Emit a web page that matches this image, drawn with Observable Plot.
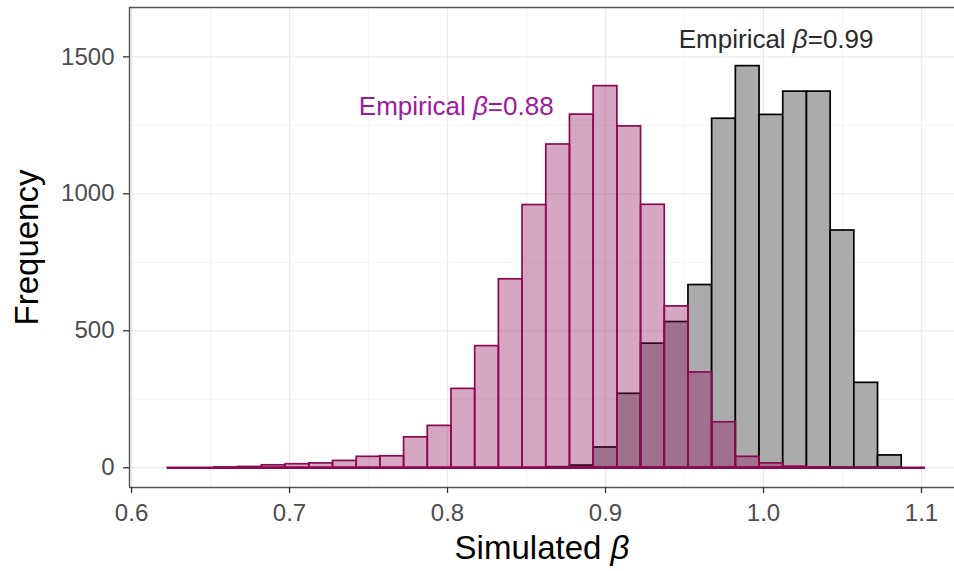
<!DOCTYPE html>
<html>
<head>
<meta charset="utf-8">
<script src="https://cdn.jsdelivr.net/npm/d3@7"></script>
<script src="https://cdn.jsdelivr.net/npm/@observablehq/plot@0.6"></script>
<style>
  html, body { margin: 0; padding: 0; background: #ffffff; overflow: hidden; }
  #chart svg { display: block; }
</style>
</head>
<body>
<div id="chart"></div>
<script>
// ---- Data ----
const binCenters = [0.63, 0.645, 0.66, 0.675, 0.69, 0.705, 0.72, 0.735, 0.75, 0.765,
                    0.78, 0.795, 0.81, 0.825, 0.84, 0.855, 0.87, 0.885, 0.9, 0.915,
                    0.93, 0.945, 0.96, 0.975, 0.99, 1.005, 1.02, 1.035, 1.05, 1.065,
                    1.08, 1.095];
const binWidth = 0.015;
const pinkCounts = [0, 0, 1, 3, 9, 13, 16, 25, 40, 42,
                    111, 153, 288, 444, 688, 959, 1180, 1289, 1393, 1246,
                    960, 589, 348, 166, 40, 16, 4, 1, 0, 0,
                    0, 0];
const grayCounts = [0, 0, 0, 0, 0, 0, 0, 0, 0, 0,
                    0, 0, 0, 0, 0, 0, 2, 8, 74, 270,
                    453, 532, 667, 1274, 1466, 1288, 1373, 1373, 866, 310,
                    45, 0];
const xTicks = [0.6, 0.7, 0.8, 0.9, 1.0, 1.1];
const xMinorTicks = [0.65, 0.75, 0.85, 0.95, 1.05];
const yTicks = [0, 500, 1000, 1500];
const yMinorTicks = [250, 750, 1250];
const annLabels = ["Empirical β=0.88", "Empirical β=0.99"];
const annX = [0.8055, 1.008];
const annY = [1318, 1562];
const annColors = ["#A0189F", "#2B2B2B"];
const xTitle = "Simulated β";
const yTitle = "Frequency";

// ---- Build table ----
const bins = binCenters.map((c, i) => ({
  x1: c - binWidth / 2, x2: c + binWidth / 2,
  pink: pinkCounts[i], gray: grayCounts[i]
}));
const annotations = annLabels.map((t, i) => ({ label: t, x: annX[i], y: annY[i], color: annColors[i] }));

const xDomain = [0.5987, 1.1209];
const yDomain = [-72, 1680];
const PINK = "#8B0A50";
const FONT = "'Liberation Sans', Arial, Helvetica, sans-serif";

const chart = Plot.plot({
  width: 954,
  height: 571,
  marginLeft: 129,
  marginRight: 0,
  marginTop: 7,
  marginBottom: 84,
  x: { domain: xDomain },
  y: { domain: yDomain },
  style: { fontFamily: FONT, background: "#ffffff", overflow: "visible" },
  marks: [
    // grid
    Plot.ruleX(xMinorTicks, { stroke: "#F3F3F3", strokeWidth: 0.9 }),
    Plot.ruleY(yMinorTicks, { stroke: "#F3F3F3", strokeWidth: 0.9 }),
    Plot.ruleX(xTicks, { stroke: "#EBEBEB", strokeWidth: 1.3 }),
    Plot.ruleY(yTicks, { stroke: "#EBEBEB", strokeWidth: 1.3 }),
    // gray histogram (underneath)
    Plot.rect(bins.filter(d => d.gray > 0), {
      x1: "x1", x2: "x2", y1: 0, y2: "gray",
      fill: "#ABABAB", stroke: "#000000", strokeWidth: 1.7
    }),
    // pink histogram (on top, translucent)
    Plot.rect(bins.filter(d => d.pink > 0), {
      x1: "x1", x2: "x2", y1: 0, y2: "pink",
      fill: PINK, fillOpacity: 0.36, stroke: PINK, strokeWidth: 1.7
    }),
    // zero-count bins drawn as a flat line along the baseline
    Plot.ruleY([0], {
      x1: bins[0].x1, x2: bins[bins.length - 1].x2,
      stroke: PINK, strokeWidth: 2.6
    }),
    // annotations
    Plot.text(annotations, {
      x: "x", y: "y", text: "label", fill: "color",
      fontSize: 26, textAnchor: "middle", lineAnchor: "middle"
    }),
    // panel border (left, top, bottom)
    Plot.ruleX([xDomain[0]], { stroke: "#555555", strokeWidth: 1.4 }),
    Plot.ruleY([yDomain[1]], { stroke: "#555555", strokeWidth: 1.4 }),
    Plot.ruleY([yDomain[0]], { stroke: "#555555", strokeWidth: 1.4 }),
    // axes
    Plot.axisX(xTicks, {
      anchor: "bottom", tickSize: 6, tickPadding: 10,
      tickFormat: d => d.toFixed(1), fontSize: 24,
      stroke: "#333333", fill: "#4D4D4D", strokeWidth: 1.3, label: null
    }),
    Plot.axisY(yTicks, {
      anchor: "left", tickSize: 6, tickPadding: 9,
      tickFormat: d => String(d), fontSize: 24,
      stroke: "#333333", fill: "#4D4D4D", strokeWidth: 1.3, label: null
    }),
    // axis titles
    Plot.text([xTitle], {
      frameAnchor: "bottom", dy: 61, fontSize: 33, fill: "#000000",
      textAnchor: "middle", lineAnchor: "middle"
    }),
    Plot.text([yTitle], {
      frameAnchor: "left", dx: -102, rotate: -90, fontSize: 33, fill: "#000000",
      textAnchor: "middle", lineAnchor: "middle"
    })
  ]
});

// italicise the Greek beta in texts
const NS = "http://www.w3.org/2000/svg";
chart.querySelectorAll("text").forEach(t => {
  const nodes = t.querySelector("tspan") ? Array.from(t.querySelectorAll("tspan")) : [t];
  nodes.forEach(node => {
    const s = node.textContent;
    if (!s.includes("β")) return;
    const parts = s.split("β");
    node.textContent = "";
    parts.forEach((p, i) => {
      if (i > 0) {
        const ts = document.createElementNS(NS, "tspan");
        ts.setAttribute("font-style", "italic");
        ts.textContent = "β";
        node.appendChild(ts);
      }
      if (p) node.appendChild(document.createTextNode(p));
    });
  });
});

document.getElementById("chart").appendChild(chart);
</script>
</body>
</html>
